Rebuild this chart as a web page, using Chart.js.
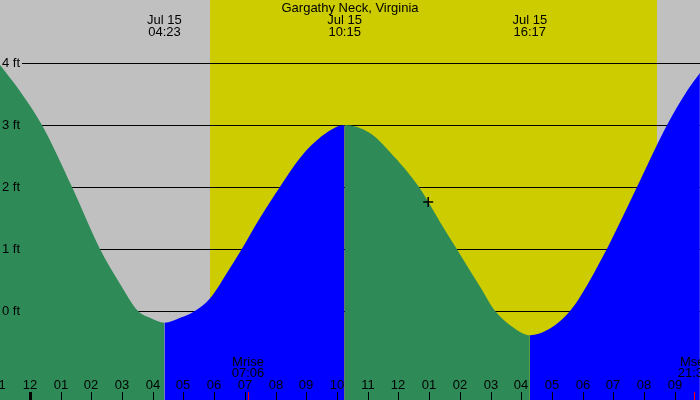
<!DOCTYPE html>
<html>
<head>
<meta charset="utf-8">
<title>Gargathy Neck, Virginia</title>
<script src="https://cdn.jsdelivr.net/npm/chart.js@4.4.1/dist/chart.umd.min.js"></script>
<style>
    html, body { margin: 0; padding: 0; background: #c0c0c0; }
    #wrap { width: 700px; height: 400px; }
</style>
</head>
<body>
<div id="wrap"><canvas id="tideChart" width="700" height="400"></canvas></div>
<script>
// tide heights (hours after midnight Jul 15, feet)
const tideHours = [-0.98, -0.33, 0.39, 1.37, 2.28, 2.93, 3.52, 3.91, 4.38, 4.89, 5.37, 5.86, 6.51, 6.84, 7.49, 8.14, 8.57, 9.02, 9.67, 10.25,
    11.07, 11.73, 12.67, 13.45, 13.9, 14.66, 15.15, 15.73, 16.28, 16.66, 17.1, 17.59, 17.92, 18.79, 19.22, 19.77, 20.75, 21.4, 21.82];
const tideFeet = [3.97, 3.55, 3.0, 2.0, 1.0, 0.44, 0.0, -0.11, -0.19, -0.11, 0.0, 0.2, 0.69, 0.95, 1.5, 2.0, 2.32, 2.6, 2.88, 3.0,
    2.87, 2.56, 2.0, 1.36, 1.0, 0.39, 0.0, -0.26, -0.39, -0.35, -0.23, 0.0, 0.23, 1.0, 1.43, 2.0, 3.0, 3.55, 3.84];

// high / low events shown at the top
const eventHours = [4.38, 10.25, 16.28];
const eventDates = ['Jul 15', 'Jul 15', 'Jul 15'];
const eventTimes = ['04:23', '10:15', '16:17'];

// daylight
const sunriseHour = 5.86;
const sunsetHour = 20.42;

// moon
const moonHours = [7.1, 21.63];
const moonNames = ['Mrise', 'Mset'];
const moonTimes = ['07:06', '21:38'];

// current time marker
const nowHour = [12.97];
const nowFeet = [1.76];

// axis ticks
const feetTicks = [0, 1, 2, 3, 4];
const feetLabels = ['0 ft', '1 ft', '2 ft', '3 ft', '4 ft'];
const hourTicks = [-1, 0, 1, 2, 3, 4, 5, 6, 7, 8, 9, 10, 11, 12, 13, 14, 15, 16, 17, 18, 19, 20, 21];
const hourLabels = ['11', '12', '01', '02', '03', '04', '05', '06', '07', '08', '09', '10', '11',
    '12', '01', '02', '03', '04', '05', '06', '07', '08', '09'];

const FALL_COLOR = '#2e8b57';
const RISE_COLOR = '#0000ff';
const FONT = '13px "Liberation Sans", Arial, sans-serif';

const backdrop = {
    id: 'backdrop',
    beforeDatasetsDraw(chart) {
        const { ctx, chartArea: a, scales: { x, y } } = chart;
        ctx.save();
        ctx.fillStyle = '#c0c0c0';
        ctx.fillRect(a.left, a.top, a.width, a.height);
        const x0 = Math.round(x.getPixelForValue(sunriseHour));
        const x1 = Math.round(x.getPixelForValue(sunsetHour));
        ctx.fillStyle = '#cccc00';
        ctx.fillRect(x0, a.top, x1 - x0, a.height);

        ctx.strokeStyle = '#000';
        ctx.lineWidth = 1;
        feetTicks.forEach(f => {
            const py = Math.round(y.getPixelForValue(f)) + 0.5;
            ctx.beginPath();
            ctx.moveTo(22, py);
            ctx.lineTo(a.right, py);
            ctx.stroke();
        });
        ctx.restore();
    },
    afterDatasetsDraw(chart) {
        const { ctx, chartArea: a, scales: { x, y } } = chart;
        ctx.save();
        ctx.font = FONT;
        ctx.fillStyle = '#000';
        ctx.textBaseline = 'middle';

        // y labels
        ctx.textAlign = 'left';
        feetTicks.forEach((f, i) => {
            ctx.fillText(feetLabels[i], 2, y.getPixelForValue(f));
        });

        // title and tide events
        ctx.textAlign = 'center';
        ctx.fillText('Gargathy Neck, Virginia', (a.left + a.right) / 2, 8);
        eventHours.forEach((h, i) => {
            const px = x.getPixelForValue(h);
            ctx.fillText(eventDates[i], px, 20);
            ctx.fillText(eventTimes[i], px, 32);
        });

        // hour labels and ticks
        hourTicks.forEach((h, i) => {
            const px = Math.round(x.getPixelForValue(h));
            ctx.fillStyle = '#000';
            ctx.fillText(hourLabels[i], px, 385);
            if (h % 24 === 0) ctx.fillRect(px - 1, 392, 3, 8);
            else ctx.fillRect(px, 392, 1, 8);
        });

        // moon events
        moonHours.forEach((h, i) => {
            const px = Math.round(x.getPixelForValue(h));
            ctx.fillStyle = '#000';
            ctx.fillText(moonNames[i], px, 362);
            ctx.fillText(moonTimes[i], px, 373);
            ctx.fillStyle = '#ff0000';
            ctx.fillRect(px, 392, 1, 8);
        });
        ctx.restore();
    }
};

new Chart(document.getElementById('tideChart'), {
    type: 'line',
    data: {
        datasets: [{
            data: tideHours.map((h, i) => ({ x: h, y: tideFeet[i] })),
            borderWidth: 0,
            pointRadius: 0,
            fill: 'start',
            cubicInterpolationMode: 'monotone',
            backgroundColor: FALL_COLOR,
            segment: {
                // blue while the tide comes in, green while it goes out
                backgroundColor: c => c.p1.parsed.y > c.p0.parsed.y ? RISE_COLOR : FALL_COLOR
            },
            order: 1
        }, {
            type: 'scatter',
            data: nowHour.map((h, i) => ({ x: h, y: nowFeet[i] })),
            pointStyle: 'cross',
            pointRadius: 5,
            borderColor: '#000',
            borderWidth: 1.5,
            order: 0
        }]
    },
    options: {
        responsive: false,
        animation: false,
        layout: { padding: 0, autoPadding: false },
        plugins: {
            legend: { display: false },
            tooltip: { enabled: false }
        },
        scales: {
            x: { type: 'linear', display: false, min: -0.977, max: 21.824 },
            y: { type: 'linear', display: false, min: -1.435, max: 5.016 }
        }
    },
    plugins: [backdrop]
});
</script>
</body>
</html>
